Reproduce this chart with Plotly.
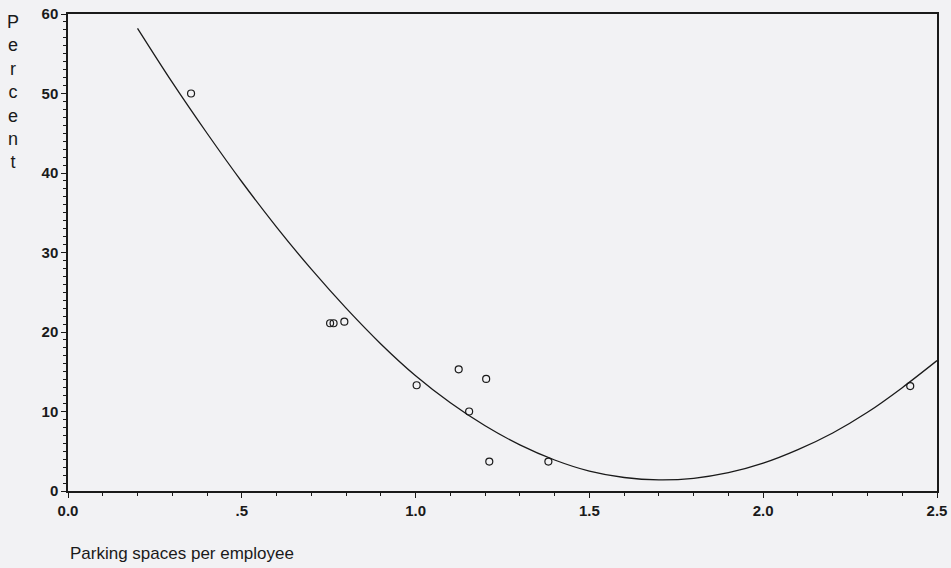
import plotly.graph_objects as go

# observed points
spaces = [0.354, 0.754, 0.764, 0.795, 1.003, 1.124, 1.154, 1.203, 1.212, 1.382, 2.423]
percent = [50.0, 21.1, 21.1, 21.3, 13.3, 15.3, 10.0, 14.1, 3.7, 3.7, 13.2]

# fitted curve
fit_x = [0.2, 0.3, 0.4, 0.5, 0.6, 0.7, 0.8, 0.9, 1.0, 1.1, 1.2, 1.3,
         1.4, 1.5, 1.6, 1.7, 1.8, 1.9, 2.0, 2.1, 2.2, 2.3, 2.4, 2.5]
fit_y = [58.2, 51.4, 45.0, 38.9, 33.2, 27.9, 23.0, 18.5, 14.5, 11.1, 8.2, 5.8,
         3.9, 2.5, 1.7, 1.4, 1.6, 2.3, 3.5, 5.2, 7.3, 9.9, 13.0, 16.4]

x_ticks = [0, 0.5, 1.0, 1.5, 2.0, 2.5]
x_labels = ["0.0", ".5", "1.0", "1.5", "2.0", "2.5"]
y_ticks = [0, 10, 20, 30, 40, 50, 60]

BG = "#f2f2f4"
INK = "#1a1a1a"
FONT = "Liberation Sans, Arial, sans-serif"

fig = go.Figure()
fig.add_trace(go.Scatter(x=fit_x, y=fit_y, mode="lines", line_shape="spline",
                         line=dict(color=INK, width=1.3), hoverinfo="skip"))
fig.add_trace(go.Scatter(x=spaces, y=percent, mode="markers",
                         marker=dict(symbol="circle-open", size=7, color=INK, line=dict(width=1.2))))

fig.update_layout(
    width=951, height=568,
    paper_bgcolor=BG, plot_bgcolor=BG,
    margin=dict(l=68, r=14, t=14, b=77),
    showlegend=False,
    font=dict(family=FONT, color=INK),
)
fig.update_xaxes(range=[0, 2.5], tickvals=x_ticks, ticktext=x_labels,
                 showgrid=False, zeroline=False, showline=True, linecolor=INK, linewidth=1.5,
                 mirror=True, ticks="outside", ticklen=5, tickcolor=INK,
                 minor=dict(dtick=0.1, ticks="outside", ticklen=3, tickcolor=INK),
                 ticklabeloverflow="allow", automargin=False,
                 tickfont=dict(size=15, family=FONT, weight="bold"))
fig.update_yaxes(range=[0, 60], tickvals=y_ticks,
                 showgrid=False, zeroline=False, showline=True, linecolor=INK, linewidth=1.5,
                 mirror=True, ticks="outside", ticklen=5, tickcolor=INK,
                 minor=dict(dtick=1, ticks="outside", ticklen=3, tickcolor=INK),
                 ticklabeloverflow="allow", automargin=False,
                 tickfont=dict(size=15, family=FONT, weight="bold"))

fig.add_annotation(text="P<br>e<br>r<br>c<br>e<br>n<br>t", xref="paper", yref="paper",
                   x=-0.063, y=0.837, xanchor="center", yanchor="middle", showarrow=False,
                   font=dict(size=18, family=FONT))
fig.add_annotation(text="Parking spaces per employee", xref="paper", yref="paper",
                   x=0, y=-0.13, xanchor="left", yanchor="middle", showarrow=False,
                   font=dict(size=17, family=FONT))

# drop the page's default body margin so the figure fills the window
fig.write_html("out.html", config={"displayModeBar": False},
               post_script="document.body.style.margin='0';document.body.style.overflow='hidden';")
